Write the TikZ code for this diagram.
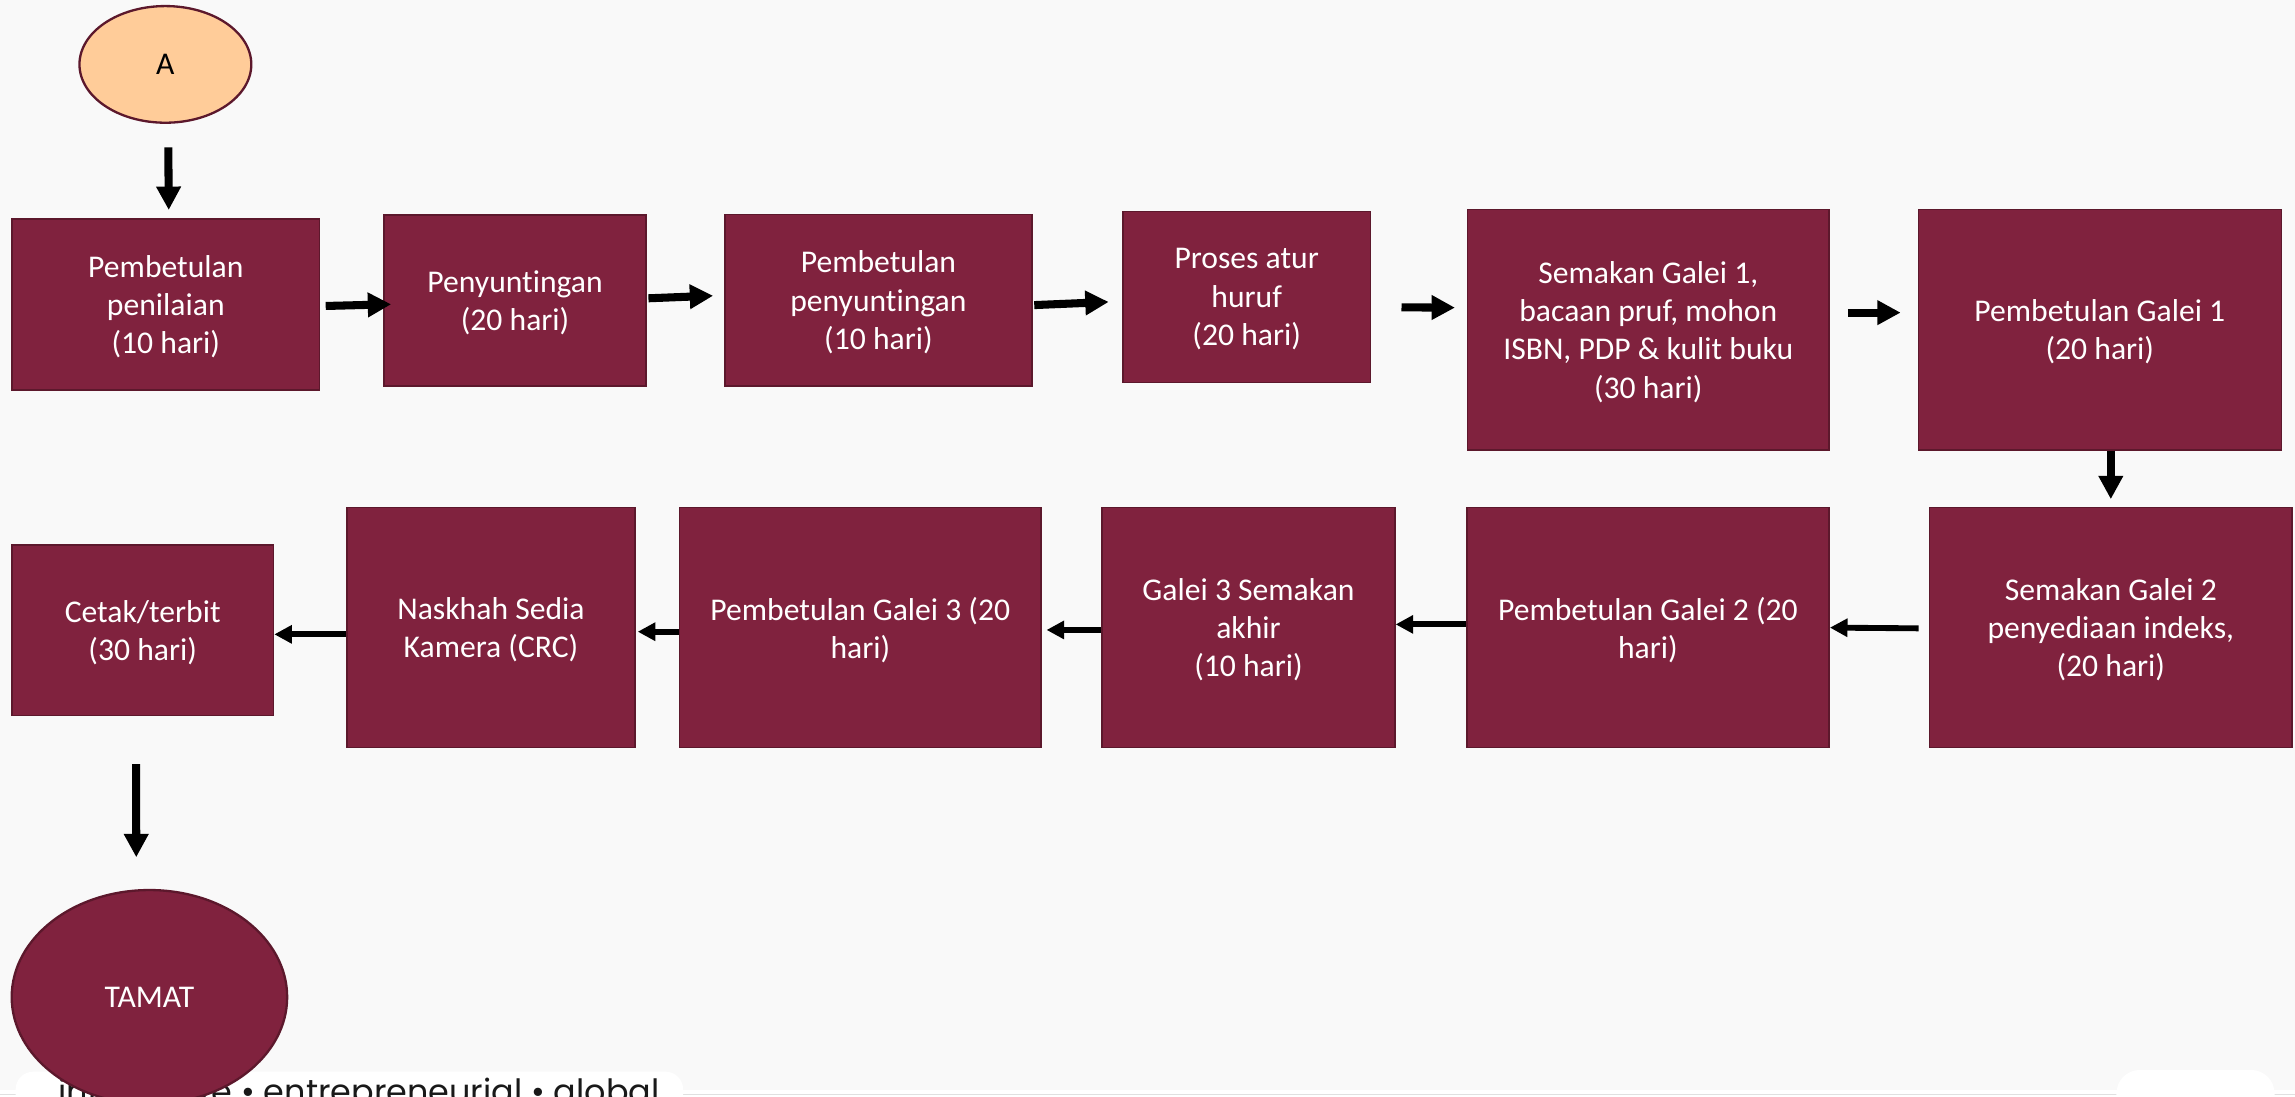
\documentclass[tikz,border=0pt]{standalone}
\usepackage{fontspec}
\setmainfont{Carlito}[Ligatures=NoCommon]
\newfontfamily\slogan{Poppins}
\usetikzlibrary{arrows.meta,calc,shapes.geometric}

\definecolor{maroon}{RGB}{128,34,62}
\definecolor{maroonline}{RGB}{92,24,44}
\definecolor{peach}{RGB}{255,204,153}
\definecolor{bggray}{RGB}{249,249,249}

\begin{document}
\begin{tikzpicture}[x=0.2mm, y=-0.2mm,
    stagebox/.style={draw=maroonline, line width=0.6pt, fill=maroon, text=white,
        align=center, inner sep=2pt, text depth=0pt, font=\fontsize{12.3}{14.9}\selectfont},
    oval/.style={ellipse, draw=maroonline, line width=0.9pt, inner sep=0pt,
        font=\fontsize{12.3}{14.9}\selectfont},
    flow/.style={-{Triangle[length=3.2mm,width=3.2mm]}, line width=1.1mm},
    flowthin/.style={-{Triangle[length=2.4mm,width=2.4mm]}, line width=0.8mm}]

    % Fix the page size and draw the slide background
    \useasboundingbox (0,0) rectangle (1568,749);
    \fill[white] (0,0) rectangle (1568,749);
    \fill[bggray] (0,0) rectangle (1568,744.7);
    \draw[black!12, line width=0.25mm] (0,747.8) -- (1568,747.8);
    \fill[white, rounded corners=2.4mm] (10.7,732.2) rectangle (466.7,790);
    \fill[white, rounded corners=3.2mm] (1446,731) rectangle (1554,790);
    \node[anchor=base west, inner sep=0pt, text=black!90,
        font=\slogan\fontsize{13}{15}\selectfont] (motto) at (39.7,753.6)
        {innovative • entrepreneurial • global};

    % Start connector
    \node[oval, fill=peach, minimum width=23.48mm, minimum height=15.94mm] (A) at (113,44) {A};

    % First row, left to right
    \node[stagebox, minimum width=42.04mm, minimum height=23.38mm] (nilai) at (113.3,208.05)
        {Pembetulan\\penilaian\\(10 hari)};
    \node[stagebox, minimum width=35.84mm, minimum height=23.36mm] (sunting) at (351.9,205.3)
        {Penyuntingan\\(20 hari)};
    \node[stagebox, minimum width=41.98mm, minimum height=23.46mm] (betulsunting) at (600.15,205.05)
        {Pembetulan\\penyuntingan\\(10 hari)};
    \node[stagebox, minimum width=33.78mm, minimum height=23.36mm] (atur) at (851.75,203)
        {Proses atur\\huruf\\(20 hari)};
    \node[stagebox, minimum width=49.42mm, minimum height=32.88mm] (galeiA) at (1126.15,225.2)
        {Semakan Galei 1,\\bacaan pruf, mohon\\ISBN, PDP \& kulit buku\\(30 hari)};
    \node[stagebox, minimum width=49.58mm, minimum height=32.88mm] (betulA) at (1434.65,225.2)
        {Pembetulan Galei 1\\(20 hari)};

    % Second row, right to left
    \node[stagebox, minimum width=49.5mm, minimum height=32.8mm] (galeiB) at (1442.15,428.8)
        {Semakan Galei 2\\penyediaan indeks,\\(20 hari)};
    \node[stagebox, minimum width=49.52mm, minimum height=32.8mm] (betulB) at (1125.9,428.8)
        {Pembetulan Galei 2 (20\\hari)};
    \node[stagebox, minimum width=40mm, minimum height=32.8mm] (galeiC) at (853,428.8)
        {Galei 3 Semakan\\akhir\\(10 hari)};
    \node[stagebox, minimum width=49.36mm, minimum height=32.8mm] (betulC) at (587.8,428.8)
        {Pembetulan Galei 3 (20\\hari)};
    \node[stagebox, minimum width=39.3mm, minimum height=32.8mm] (crc) at (335.45,428.8)
        {Naskhah Sedia\\Kamera (CRC)};
    \node[stagebox, minimum width=35.76mm, minimum height=23.32mm] (cetak) at (97.5,430.6)
        {Cetak/terbit\\(30 hari)};

    % End connector, partly off the slide
    \node[oval, fill=maroon, text=white, minimum width=37.64mm, minimum height=29.24mm] (tamat) at (102.1,681.2) {TAMAT};

    % Arrows of the first row
    \draw[flow] ($(A.south)+(2,16)$) -- ($(nilai.north)+(2,-5.6)$);
    \draw[flow] ($(nilai.east)+(3.6,1)$) -- ($(sunting.west)+(5.5,2.6)$);
    \draw[flow] ($(sunting.east)+(1,-1.5)$) -- ($(betulsunting.west)+(-7.4,-3)$);
    \draw[flow] ($(betulsunting.east)+(1,3.4)$) -- ($(atur.west)+(-9.3,3.3)$);
    \draw[flow] ($(atur.east)+(20.8,7)$) -- ($(galeiA.west)+(-8,-15)$);
    \draw[flow] ($(galeiA.east)+(12.3,-11.6)$) -- ($(betulA.west)+(-11.6,-11.6)$);
    \draw[flow] (galeiB.north |- betulA.south) -- ($(galeiB.north)+(0,-5.2)$);

    % Arrows of the second row
    \draw[flowthin] ($(galeiB.west)+(-7,0.5)$) -- (betulB.east);
    \draw[flowthin] ($(betulB.west)+(0,-2.2)$) -- ($(galeiC.east)+(0,-2.2)$);
    \draw[flowthin] ($(galeiC.west)+(0,1.6)$) -- ($(betulC.east)+(3.3,1.6)$);
    \draw[flowthin] ($(betulC.west)+(0,2.8)$) -- ($(crc.east)+(1.5,2.8)$);
    \draw[flowthin] ($(crc.west)+(0,4.6)$) -- ($(cetak.east)+(0,2.8)$);
    \draw[flow] ($(cetak.south)+(-4.5,32.6)$) -- ($(tamat.north)+(-9,-21.6)$);

\end{tikzpicture}
\end{document}
